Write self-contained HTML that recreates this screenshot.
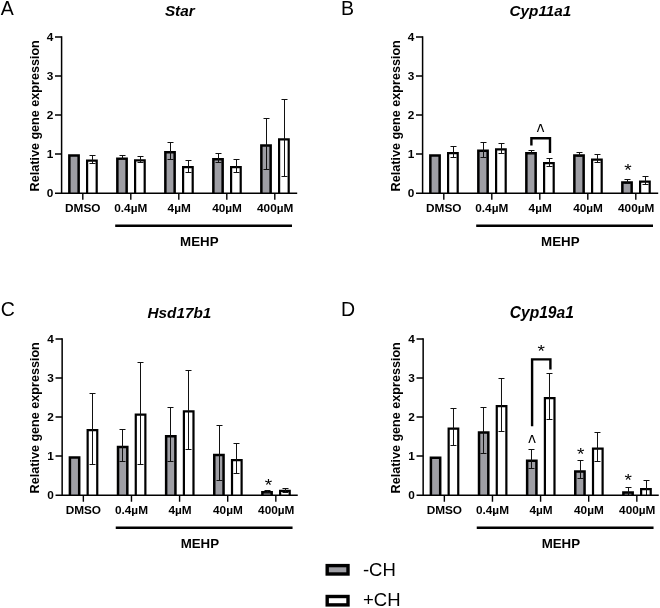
<!DOCTYPE html>
<html><head><meta charset="utf-8"><title>Figure</title>
<style>
html,body{margin:0;padding:0;background:#fff}
svg{display:block;will-change:transform}
text{font-family:"Liberation Sans",Arial,sans-serif;fill:#000}
.tk{font-weight:bold;font-size:11.8px}
.ti{font-weight:bold;font-style:italic;font-size:15.3px}
.yl{font-weight:bold;font-size:12.6px}
.mh{font-weight:bold;font-size:13.3px}
.lt{font-size:19.5px}
.lg{font-size:18.5px}
.st{font-size:17px}
.ct{font-size:21.3px}
</style></head><body>
<svg width="660" height="608" viewBox="0 0 660 608">
<rect width="660" height="608" fill="#fff"/>
<text class="lt" x="0.7" y="14.85">A</text>
<g transform="translate(0,0)">
<text class="ti" x="179.8" y="16" text-anchor="middle">Star</text>
<text class="yl" transform="translate(38.8,115.8) rotate(-90)" text-anchor="middle">Relative gene expression</text>
<path d="M69.35 193.2V155.5H78.65V193.2" fill="#9e9ea4" stroke="#000" stroke-width="2.5"/>
<path d="M87.1 193.2V160.6H96.7V193.2" fill="#fff" stroke="#000" stroke-width="2.2"/>
<path d="M92.5 155.5V163.5M89.5 155.5h6M89.5 163.5h6" stroke="#111" stroke-width="1" fill="none"/>
<path d="M117.35 193.2V158.75H126.65V193.2" fill="#9e9ea4" stroke="#000" stroke-width="2.5"/>
<path d="M135.1 193.2V160.35H144.7V193.2" fill="#fff" stroke="#000" stroke-width="2.2"/>
<path d="M122.5 155.5V159.5M119.5 155.5h6M119.5 159.5h6" stroke="#111" stroke-width="1" fill="none"/>
<path d="M140.5 156.5V162.5M137.5 156.5h6M137.5 162.5h6" stroke="#111" stroke-width="1" fill="none"/>
<path d="M165.35 193.2V152.25H174.65V193.2" fill="#9e9ea4" stroke="#000" stroke-width="2.5"/>
<path d="M183.1 193.2V167.1H192.7V193.2" fill="#fff" stroke="#000" stroke-width="2.2"/>
<path d="M170.5 142.5V159.5M167.5 142.5h6M167.5 159.5h6" stroke="#111" stroke-width="1" fill="none"/>
<path d="M188.5 160.5V172.5M185.5 160.5h6M185.5 172.5h6" stroke="#111" stroke-width="1" fill="none"/>
<path d="M213.35 193.2V159.25H222.65V193.2" fill="#9e9ea4" stroke="#000" stroke-width="2.5"/>
<path d="M231.1 193.2V167.1H240.7V193.2" fill="#fff" stroke="#000" stroke-width="2.2"/>
<path d="M218.5 153.5V162.5M215.5 153.5h6M215.5 162.5h6" stroke="#111" stroke-width="1" fill="none"/>
<path d="M236.5 159.5V172.5M233.5 159.5h6M233.5 172.5h6" stroke="#111" stroke-width="1" fill="none"/>
<path d="M261.35 193.2V145.5H270.65V193.2" fill="#9e9ea4" stroke="#000" stroke-width="2.5"/>
<path d="M279.1 193.2V139.35H288.7V193.2" fill="#fff" stroke="#000" stroke-width="2.2"/>
<path d="M266.5 118.5V169.5M263.5 118.5h6M263.5 169.5h6" stroke="#111" stroke-width="1" fill="none"/>
<path d="M284.5 99.5V176.5M281.5 99.5h6M281.5 176.5h6" stroke="#111" stroke-width="1" fill="none"/>
<path d="M61.6 36.3V193.2M55 193.2H297.2" stroke="#000" stroke-width="1.5" fill="none"/>
<path d="M55 37H61.6M55 76H61.6M55 115H61.6M55 154H61.6M82.8 193.2V199.8M130.8 193.2V199.8M178.8 193.2V199.8M226.8 193.2V199.8M274.8 193.2V199.8" stroke="#000" stroke-width="1.4" fill="none"/>
<text class="tk" x="53.2" y="41" text-anchor="end">4</text>
<text class="tk" x="53.2" y="80" text-anchor="end">3</text>
<text class="tk" x="53.2" y="119" text-anchor="end">2</text>
<text class="tk" x="53.2" y="158" text-anchor="end">1</text>
<text class="tk" x="53.2" y="197" text-anchor="end">0</text>
<text class="tk" x="82.8" y="212" text-anchor="middle">DMSO</text>
<text class="tk" x="130.8" y="212" text-anchor="middle">0.4µM</text>
<text class="tk" x="179.2" y="212" text-anchor="middle">4µM</text>
<text class="tk" x="227.0" y="212" text-anchor="middle">40µM</text>
<text class="tk" x="275.2" y="212" text-anchor="middle">400µM</text>
<path d="M115.2 225.8H292" stroke="#000" stroke-width="2.4"/>
<text class="mh" x="199.3" y="246" text-anchor="middle">MEHP</text>
</g>
<text class="lt" x="341" y="14.85">B</text>
<g transform="translate(361,0)">
<text class="ti" x="179.4" y="16" text-anchor="middle">Cyp11a1</text>
<text class="yl" transform="translate(38.8,115.8) rotate(-90)" text-anchor="middle">Relative gene expression</text>
<path d="M69.35 193.2V155.5H78.65V193.2" fill="#9e9ea4" stroke="#000" stroke-width="2.5"/>
<path d="M87.1 193.2V153.1H96.7V193.2" fill="#fff" stroke="#000" stroke-width="2.2"/>
<path d="M92.5 146.5V157.5M89.5 146.5h6M89.5 157.5h6" stroke="#111" stroke-width="1" fill="none"/>
<path d="M117.35 193.2V150.75H126.65V193.2" fill="#9e9ea4" stroke="#000" stroke-width="2.5"/>
<path d="M135.1 193.2V149.35H144.7V193.2" fill="#fff" stroke="#000" stroke-width="2.2"/>
<path d="M122.5 142.5V157.5M119.5 142.5h6M119.5 157.5h6" stroke="#111" stroke-width="1" fill="none"/>
<path d="M140.5 143.5V153.5M137.5 143.5h6M137.5 153.5h6" stroke="#111" stroke-width="1" fill="none"/>
<path d="M165.35 193.2V153.25H174.65V193.2" fill="#9e9ea4" stroke="#000" stroke-width="2.5"/>
<path d="M183.1 193.2V163.1H192.7V193.2" fill="#fff" stroke="#000" stroke-width="2.2"/>
<path d="M170.5 150.5V153.5M167.5 150.5h6M167.5 153.5h6" stroke="#111" stroke-width="1" fill="none"/>
<path d="M188.5 158.5V166.5M185.5 158.5h6M185.5 166.5h6" stroke="#111" stroke-width="1" fill="none"/>
<path d="M213.35 193.2V155.5H222.65V193.2" fill="#9e9ea4" stroke="#000" stroke-width="2.5"/>
<path d="M231.1 193.2V159.6H240.7V193.2" fill="#fff" stroke="#000" stroke-width="2.2"/>
<path d="M218.5 152.5V156.5M215.5 152.5h6M215.5 156.5h6" stroke="#111" stroke-width="1" fill="none"/>
<path d="M236.5 154.5V162.5M233.5 154.5h6M233.5 162.5h6" stroke="#111" stroke-width="1" fill="none"/>
<path d="M261.35 193.2V182.5H270.65V193.2" fill="#9e9ea4" stroke="#000" stroke-width="2.5"/>
<path d="M279.1 193.2V181.6H288.7V193.2" fill="#fff" stroke="#000" stroke-width="2.2"/>
<path d="M266.5 179.5V183.5M263.5 179.5h6M263.5 183.5h6" stroke="#111" stroke-width="1" fill="none"/>
<path d="M284.5 176.5V184.5M281.5 176.5h6M281.5 184.5h6" stroke="#111" stroke-width="1" fill="none"/>
<path d="M61.6 36.3V193.2M55 193.2H297.2" stroke="#000" stroke-width="1.5" fill="none"/>
<path d="M55 37H61.6M55 76H61.6M55 115H61.6M55 154H61.6M82.8 193.2V199.8M130.8 193.2V199.8M178.8 193.2V199.8M226.8 193.2V199.8M274.8 193.2V199.8" stroke="#000" stroke-width="1.4" fill="none"/>
<text class="tk" x="53.2" y="41" text-anchor="end">4</text>
<text class="tk" x="53.2" y="80" text-anchor="end">3</text>
<text class="tk" x="53.2" y="119" text-anchor="end">2</text>
<text class="tk" x="53.2" y="158" text-anchor="end">1</text>
<text class="tk" x="53.2" y="197" text-anchor="end">0</text>
<text class="tk" x="82.8" y="212" text-anchor="middle">DMSO</text>
<text class="tk" x="130.8" y="212" text-anchor="middle">0.4µM</text>
<text class="tk" x="179.2" y="212" text-anchor="middle">4µM</text>
<text class="tk" x="227.0" y="212" text-anchor="middle">40µM</text>
<text class="tk" x="275.2" y="212" text-anchor="middle">400µM</text>
<path d="M115.2 225.8H292" stroke="#000" stroke-width="2.4"/>
<text class="mh" x="199.3" y="246" text-anchor="middle">MEHP</text>
<path d="M170.4 145.6V138.3H189V152.9" stroke="#000" stroke-width="2.4" fill="none" stroke-linejoin="miter"/>
<text class="ct" transform="translate(179.5,139.15) scale(0.76,1)" text-anchor="middle">^</text>
<text class="st" transform="translate(267,176.1) scale(1.12,1)" text-anchor="middle">*</text>
</g>
<text class="lt" x="0.8" y="316.2">C</text>
<g transform="translate(0.55,302)">
<text class="ti" x="178.85" y="16" text-anchor="middle">Hsd17b1</text>
<text class="yl" transform="translate(38.8,115.8) rotate(-90)" text-anchor="middle">Relative gene expression</text>
<path d="M69.35 193.2V155.5H78.65V193.2" fill="#9e9ea4" stroke="#000" stroke-width="2.5"/>
<path d="M87.1 193.2V128.1H96.7V193.2" fill="#fff" stroke="#000" stroke-width="2.2"/>
<path d="M91.95 91.5V162.5M88.95 91.5h6M88.95 162.5h6" stroke="#111" stroke-width="1" fill="none"/>
<path d="M117.47 193.2V145H126.77V193.2" fill="#9e9ea4" stroke="#000" stroke-width="2.5"/>
<path d="M135.22 193.2V112.6H144.82V193.2" fill="#fff" stroke="#000" stroke-width="2.2"/>
<path d="M121.95 127.5V159.5M118.95 127.5h6M118.95 159.5h6" stroke="#111" stroke-width="1" fill="none"/>
<path d="M139.95 60.5V162.5M136.95 60.5h6M136.95 162.5h6" stroke="#111" stroke-width="1" fill="none"/>
<path d="M165.59 193.2V134.25H174.89V193.2" fill="#9e9ea4" stroke="#000" stroke-width="2.5"/>
<path d="M183.34 193.2V109.35H192.94V193.2" fill="#fff" stroke="#000" stroke-width="2.2"/>
<path d="M169.95 105.5V159.5M166.95 105.5h6M166.95 159.5h6" stroke="#111" stroke-width="1" fill="none"/>
<path d="M187.95 68.5V147.5M184.95 68.5h6M184.95 147.5h6" stroke="#111" stroke-width="1" fill="none"/>
<path d="M213.71 193.2V153H223.01V193.2" fill="#9e9ea4" stroke="#000" stroke-width="2.5"/>
<path d="M231.46 193.2V158.1H241.06V193.2" fill="#fff" stroke="#000" stroke-width="2.2"/>
<path d="M218.95 123.5V178.5M215.95 123.5h6M215.95 178.5h6" stroke="#111" stroke-width="1" fill="none"/>
<path d="M235.95 141.5V171.5M232.95 141.5h6M232.95 171.5h6" stroke="#111" stroke-width="1" fill="none"/>
<path d="M261.83 193.2V190.25H271.13V193.2" fill="#9e9ea4" stroke="#000" stroke-width="2.5"/>
<path d="M279.58 193.2V188.9H289.18V193.2" fill="#fff" stroke="#000" stroke-width="2.2"/>
<path d="M266.95 188.5V190.5M263.95 188.5h6M263.95 190.5h6" stroke="#111" stroke-width="1" fill="none"/>
<path d="M284.95 186.5V190.5M281.95 186.5h6M281.95 190.5h6" stroke="#111" stroke-width="1" fill="none"/>
<path d="M61.6 36.3V193.2M55 193.2H297.2" stroke="#000" stroke-width="1.5" fill="none"/>
<path d="M55 37H61.6M55 76H61.6M55 115H61.6M55 154H61.6M82.8 193.2V199.8M130.92 193.2V199.8M179.04 193.2V199.8M227.16 193.2V199.8M275.28 193.2V199.8" stroke="#000" stroke-width="1.4" fill="none"/>
<text class="tk" x="53.2" y="41" text-anchor="end">4</text>
<text class="tk" x="53.2" y="80" text-anchor="end">3</text>
<text class="tk" x="53.2" y="119" text-anchor="end">2</text>
<text class="tk" x="53.2" y="158" text-anchor="end">1</text>
<text class="tk" x="53.2" y="197" text-anchor="end">0</text>
<text class="tk" x="82.8" y="212" text-anchor="middle">DMSO</text>
<text class="tk" x="130.92" y="212" text-anchor="middle">0.4µM</text>
<text class="tk" x="179.44" y="212" text-anchor="middle">4µM</text>
<text class="tk" x="227.36" y="212" text-anchor="middle">40µM</text>
<text class="tk" x="275.68" y="212" text-anchor="middle">400µM</text>
<path d="M115.2 225.8H292" stroke="#000" stroke-width="2.4"/>
<text class="mh" x="199.3" y="246" text-anchor="middle">MEHP</text>
<text class="st" transform="translate(267.95,188.6) scale(1.12,1)" text-anchor="middle">*</text>
</g>
<text class="lt" x="341.1" y="316.1">D</text>
<g transform="translate(361.55,302)">
<text class="ti" style="font-size:15.6px" x="180.25" y="16" text-anchor="middle">Cyp19a1</text>
<text class="yl" transform="translate(38.8,115.8) rotate(-90)" text-anchor="middle">Relative gene expression</text>
<path d="M69.35 193.2V155.75H78.65V193.2" fill="#9e9ea4" stroke="#000" stroke-width="2.5"/>
<path d="M87.1 193.2V126.6H96.7V193.2" fill="#fff" stroke="#000" stroke-width="2.2"/>
<path d="M91.95 106.5V143.5M88.95 106.5h6M88.95 143.5h6" stroke="#111" stroke-width="1" fill="none"/>
<path d="M117.47 193.2V130.5H126.77V193.2" fill="#9e9ea4" stroke="#000" stroke-width="2.5"/>
<path d="M135.22 193.2V104.1H144.82V193.2" fill="#fff" stroke="#000" stroke-width="2.2"/>
<path d="M121.95 105.5V151.5M118.95 105.5h6M118.95 151.5h6" stroke="#111" stroke-width="1" fill="none"/>
<path d="M139.95 76.5V129.5M136.95 76.5h6M136.95 129.5h6" stroke="#111" stroke-width="1" fill="none"/>
<path d="M165.59 193.2V158.75H174.89V193.2" fill="#9e9ea4" stroke="#000" stroke-width="2.5"/>
<path d="M183.34 193.2V96.1H192.94V193.2" fill="#fff" stroke="#000" stroke-width="2.2"/>
<path d="M169.95 147.5V166.5M166.95 147.5h6M166.95 166.5h6" stroke="#111" stroke-width="1" fill="none"/>
<path d="M187.95 71.5V117.5M184.95 71.5h6M184.95 117.5h6" stroke="#111" stroke-width="1" fill="none"/>
<path d="M213.71 193.2V169.5H223.01V193.2" fill="#9e9ea4" stroke="#000" stroke-width="2.5"/>
<path d="M231.46 193.2V146.6H241.06V193.2" fill="#fff" stroke="#000" stroke-width="2.2"/>
<path d="M218.95 158.5V176.5M215.95 158.5h6M215.95 176.5h6" stroke="#111" stroke-width="1" fill="none"/>
<path d="M235.95 130.5V159.5M232.95 130.5h6M232.95 159.5h6" stroke="#111" stroke-width="1" fill="none"/>
<path d="M261.83 193.2V190.5H271.13V193.2" fill="#9e9ea4" stroke="#000" stroke-width="2.5"/>
<path d="M279.58 193.2V187.1H289.18V193.2" fill="#fff" stroke="#000" stroke-width="2.2"/>
<path d="M266.95 185.5V193.5M263.95 185.5h6M263.95 193.5h6" stroke="#111" stroke-width="1" fill="none"/>
<path d="M284.95 178.5V193.5M281.95 178.5h6M281.95 193.5h6" stroke="#111" stroke-width="1" fill="none"/>
<path d="M61.6 36.3V193.2M55 193.2H297.2" stroke="#000" stroke-width="1.5" fill="none"/>
<path d="M55 37H61.6M55 76H61.6M55 115H61.6M55 154H61.6M82.8 193.2V199.8M130.92 193.2V199.8M179.04 193.2V199.8M227.16 193.2V199.8M275.28 193.2V199.8" stroke="#000" stroke-width="1.4" fill="none"/>
<text class="tk" x="53.2" y="41" text-anchor="end">4</text>
<text class="tk" x="53.2" y="80" text-anchor="end">3</text>
<text class="tk" x="53.2" y="119" text-anchor="end">2</text>
<text class="tk" x="53.2" y="158" text-anchor="end">1</text>
<text class="tk" x="53.2" y="197" text-anchor="end">0</text>
<text class="tk" x="82.8" y="212" text-anchor="middle">DMSO</text>
<text class="tk" x="130.92" y="212" text-anchor="middle">0.4µM</text>
<text class="tk" x="179.44" y="212" text-anchor="middle">4µM</text>
<text class="tk" x="227.36" y="212" text-anchor="middle">40µM</text>
<text class="tk" x="275.68" y="212" text-anchor="middle">400µM</text>
<path d="M115.2 225.8H292" stroke="#000" stroke-width="2.4"/>
<text class="mh" x="199.3" y="246" text-anchor="middle">MEHP</text>
<path d="M170.55 124.25V57.4H188.85V67.4" stroke="#000" stroke-width="2.4" fill="none" stroke-linejoin="miter"/>
<text class="st" transform="translate(179.65,55) scale(1.12,1)" text-anchor="middle">*</text>
<text class="ct" transform="translate(170.45,148.05) scale(0.76,1)" text-anchor="middle">^</text>
<text class="st" transform="translate(219.2,157.85) scale(1.12,1)" text-anchor="middle">*</text>
<text class="st" transform="translate(266.7,183.6) scale(1.12,1)" text-anchor="middle">*</text>
</g>
<rect x="327.2" y="565.6" width="20.8" height="8.4" fill="#9e9ea4" stroke="#000" stroke-width="3.4"/>
<rect x="327.2" y="596.5" width="20.8" height="8.4" fill="#fff" stroke="#000" stroke-width="3.4"/>
<text class="lg" x="362.9" y="575.7">-CH</text>
<text class="lg" x="363" y="606.1">+CH</text>
</svg>
</body></html>
